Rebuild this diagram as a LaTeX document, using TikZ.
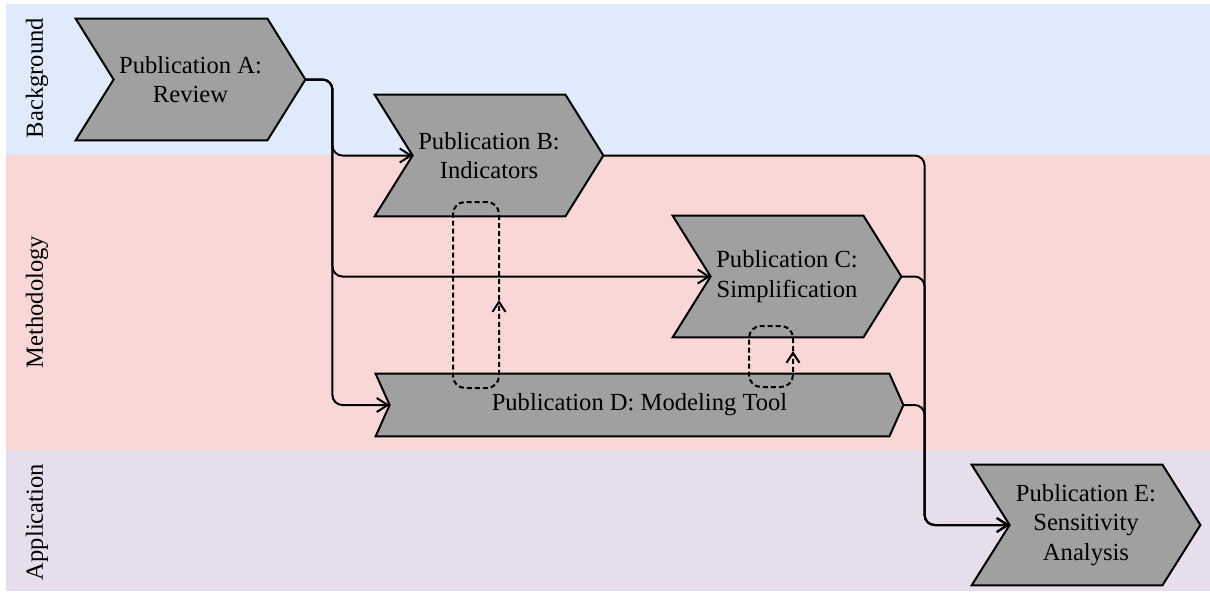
\documentclass[tikz,border=0pt]{standalone}
\usepackage{fontspec}
\setmainfont{Liberation Serif}
\usetikzlibrary{calc,arrows.meta}

\definecolor{bandblue}{RGB}{223,234,250}
\definecolor{bandpink}{RGB}{249,215,215}
\definecolor{bandpurple}{RGB}{230,222,236}
\definecolor{pubgray}{RGB}{160,160,160}

\pgfdeclarelayer{bands}
\pgfdeclarelayer{shapes}
\pgfsetlayers{bands,shapes,main}

% chevron outline behind a publication node: #1 = node name, #2 = point depth
\newcommand\chevron[2]{%
  \begin{pgfonlayer}{shapes}
    \filldraw[chev] (#1.north west) -- ($(#1.north east)+(-#2,0)$) -- (#1.east)
      -- ($(#1.south east)+(-#2,0)$) -- (#1.south west) -- ($(#1.west)+(#2,0)$) -- cycle;
  \end{pgfonlayer}
  \coordinate (#1-in) at ($(#1.west)+(#2,0)$);
}

\begin{document}
\begin{tikzpicture}[x=0.5pt,y=-0.5pt,
  font=\fontsize{12.3}{14.6}\selectfont,
  pub/.style={rectangle, inner sep=0pt, align=center},
  chev/.style={fill=pubgray, draw=black, line width=1pt, line join=miter},
  lane/.style={rotate=90, anchor=center},
  conn/.style={line width=1pt, rounded corners=5pt,
    -{Straight Barb[length=5.5pt,width=7pt]}},
  fb/.style={line width=1pt, dash pattern=on 2.5pt off 1.5pt, rounded corners=6pt,
    -{Straight Barb[length=5pt,width=6.5pt]}}]
\useasboundingbox (0,0) rectangle (1210,595);

% swim lanes
\begin{pgfonlayer}{bands}
  \fill[bandblue]   (6,4)     rectangle (1210,155);
  \fill[bandpink]   (6,155)   rectangle (1210,449.5);
  \fill[bandpurple] (6,449.5) rectangle (1210,591);
\end{pgfonlayer}
\node[lane] (lbg)  at (37,78)  {Background};
\node[lane] (lme)  at (37,302) {Methodology};
\node[lane] (lapp) at (37,522) {Application};

% publications
\node[pub, minimum width=114.5pt, minimum height=60.5pt] (A) at (190.5,79.5)
  {Publication A:\\Review};
\chevron{A}{38}
\node[pub, minimum width=114pt, minimum height=60.5pt] (B) at (489,155.5)
  {Publication B:\\Indicators};
\chevron{B}{38}
\node[pub, minimum width=114pt, minimum height=60.5pt] (C) at (787,276.5)
  {Publication C:\\Simplification};
\chevron{C}{38}
\node[pub, minimum width=263.5pt, minimum height=31pt] (D) at (639.5,405)
  {Publication D: Modeling Tool};
\chevron{D}{14}
\node[pub, minimum width=114pt, minimum height=60pt] (E) at (1086,525)
  {Publication E:\\Sensitivity\\Analysis};
\chevron{E}{38}

% flows out of A
\coordinate (splitA) at ($(A.east)+(27,0)$);
\draw[conn] (A.east) -- (splitA) |- (B-in);
\draw[conn] (A.east) -- (splitA) |- (C-in);
\draw[conn] (A.east) -- (splitA) |- (D-in);

% flows into E
\coordinate (mergeE) at ($(E-in)+(-85,0)$);
\draw[conn] (B.east) -| (mergeE) -- (E-in);
\draw[conn] (C.east) -| (mergeE) -- (E-in);
\draw[conn] (D.east) -| (mergeE) -- (E-in);

% feedback loops between D and B, D and C
\coordinate (fbBr) at (499,300);
\coordinate (fbBt) at (453,202);
\coordinate (fbBb) at (453,388);
\draw[fb] (fbBr) -- (fbBr |- fbBt) -- (fbBt) -- (fbBb) -- (fbBr |- fbBb) -- (fbBr);

\coordinate (fbCr) at (793,351);
\coordinate (fbCt) at (749,326);
\coordinate (fbCb) at (749,387);
\draw[fb] (fbCr) -- (fbCr |- fbCt) -- (fbCt) -- (fbCb) -- (fbCr |- fbCb) -- (fbCr);
\end{tikzpicture}
\end{document}
